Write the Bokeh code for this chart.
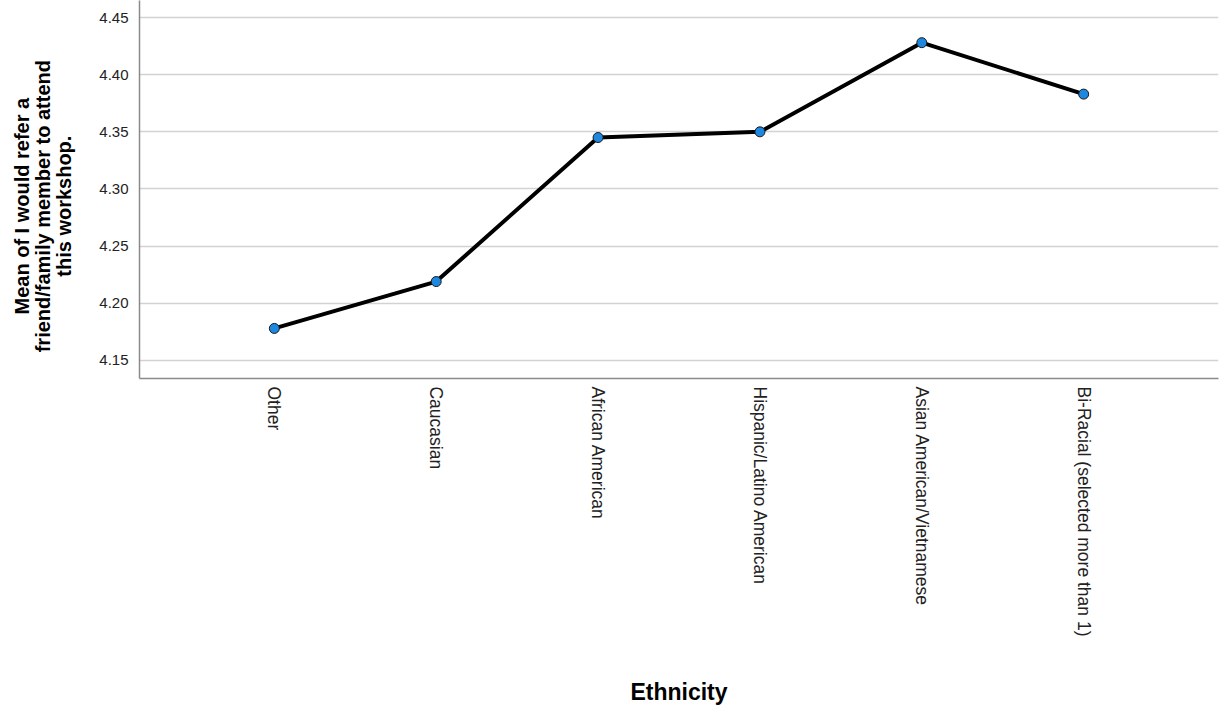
import math
from bokeh.plotting import figure
from bokeh.models import Range1d, FixedTicker, ColumnDataSource, NumeralTickFormatter
from bokeh.embed import file_html
from bokeh.resources import INLINE

categories = ["Other", "Caucasian", "African American", "Hispanic/Latino American",
              "Asian American/Vietnamese", "Bi-Racial (selected more than 1)"]
means = [4.178, 4.219, 4.345, 4.350, 4.428, 4.383]
y_ticks = [4.15, 4.20, 4.25, 4.30, 4.35, 4.40, 4.45]
y_title_lines = ["Mean of I would refer a", "friend/family member to attend", "this workshop."]
x_title = "Ethnicity"

xs = list(range(len(categories)))
src = ColumnDataSource(dict(x=xs, y=means, cat=categories))

p = figure(width=1221, height=713, output_backend="svg", toolbar_location=None,
           x_range=Range1d(-0.833, len(categories) - 1 + 0.833),
           y_range=Range1d(4.1342, 4.4649),
           min_border_left=139, min_border_right=3, min_border_top=0, min_border_bottom=335)
p.outline_line_color = None
p.background_fill_color = "white"
p.border_fill_color = "white"

p.line("x", "y", source=src, line_color="black", line_width=4)
p.scatter("x", "y", source=src, size=10, fill_color="#1e88e0", line_color="#1a1a1a", line_width=1)

FONT = "Liberation Sans"

p.xgrid.grid_line_color = None
p.ygrid.grid_line_color = "#d2d2d2"
p.ygrid.grid_line_width = 1.5

# x axis
p.xaxis.ticker = FixedTicker(ticks=xs)
p.xaxis.major_label_overrides = {i: c for i, c in enumerate(categories)}
p.xaxis.major_label_orientation = -math.pi / 2
p.xaxis.major_label_text_font = FONT
p.xaxis.major_label_text_font_size = "17.5px"
p.xaxis.major_label_text_color = "#222222"
p.xaxis.major_label_standoff = 2
p.xaxis.axis_label = x_title
p.xaxis.axis_label_text_font = FONT
p.xaxis.axis_label_text_font_style = "bold"
p.xaxis.axis_label_text_font_size = "23px"
p.xaxis.axis_label_text_color = "black"
p.xaxis.axis_label_standoff = 40

# y axis
p.yaxis.ticker = FixedTicker(ticks=y_ticks)
p.yaxis.formatter = NumeralTickFormatter(format="0.00")
p.yaxis.major_label_text_font = FONT
p.yaxis.major_label_text_font_size = "15px"
p.yaxis.major_label_text_color = "#222222"
p.yaxis.major_label_standoff = 5
# trailing non-breaking spaces nudge the centred title slightly downward, as in the original
pad = "\u00a0" * 6
p.yaxis.axis_label = "\n".join(line + pad for line in y_title_lines)
p.yaxis.axis_label_text_font = FONT
p.yaxis.axis_label_text_font_style = "bold"
p.yaxis.axis_label_text_font_size = "20px"
p.yaxis.axis_label_text_color = "black"
p.yaxis.axis_label_text_line_height = 0.95
p.yaxis.axis_label_standoff = 21

for ax in (p.xaxis, p.yaxis):
    ax.axis_line_color = "#8a8a8a"
    ax.axis_line_width = 1.5
    ax.major_tick_line_color = None
    ax.minor_tick_line_color = None

open("out.html", "w").write(file_html(p, INLINE))
